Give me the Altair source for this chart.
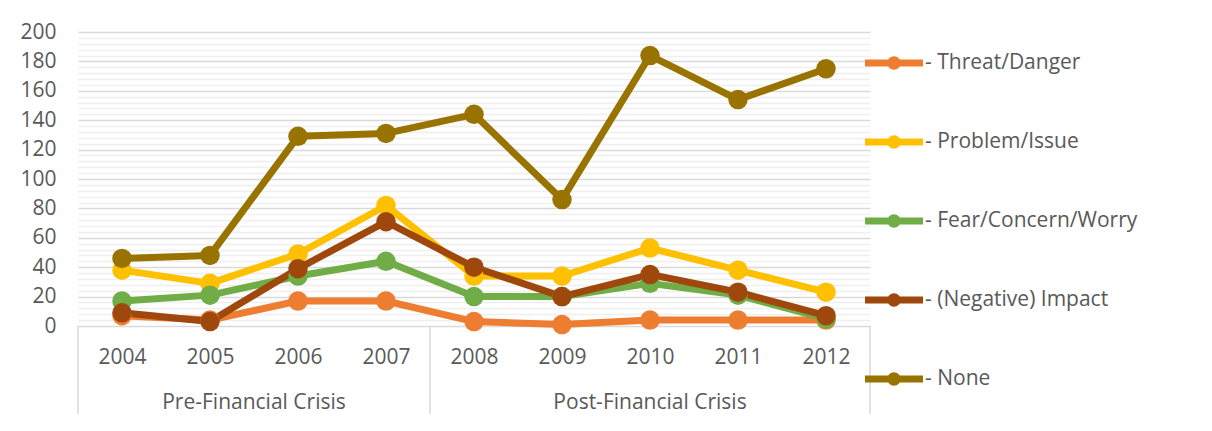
import altair as alt
import pandas as pd

years = ["2004", "2005", "2006", "2007", "2008", "2009", "2010", "2011", "2012"]
group_names = ["Pre-Financial Crisis", "Post-Financial Crisis"]
group_start = [0, 4]
group_end = [4, 9]
separators = [0, 4, 9]

series_names = ["- Threat/Danger", "- Problem/Issue", "- Fear/Concern/Worry",
                "- (Negative) Impact", "- None"]
threat = [7, 4, 17, 17, 3, 1, 4, 4, 4]
problem = [38, 29, 49, 82, 34, 34, 53, 38, 23]
fear = [17, 21, 34, 44, 20, 20, 29, 21, 5]
impact = [9, 3, 39, 71, 40, 20, 35, 23, 7]
none_ = [46, 48, 129, 131, 144, 86, 184, 154, 175]
colors = ["#ED7D31", "#FFC000", "#70AD47", "#9E480E", "#997300"]

values = [threat, problem, fear, impact, none_]
rows = []
for si, (name, vals) in enumerate(zip(series_names, values)):
    for yi, (yr, v) in enumerate(zip(years, vals)):
        rows.append({"series": name, "order": si, "year": yr, "yi": yi, "value": v})
df = pd.DataFrame(rows)

groups_df = pd.DataFrame({"name": group_names, "start": group_start, "end": group_end})
sep_df = pd.DataFrame({"pos": separators})

FONT = "Open Sans"
TXT = "#595959"
FS = 21

x_enc = alt.X("year:N",
              scale=alt.Scale(domain=years, paddingInner=0, paddingOuter=0),
              axis=alt.Axis(title=None, labelFontSize=FS, labelColor=TXT, labelFont=FONT,
                            ticks=False, tickSize=0, domain=False, grid=False, labelAngle=0,
                            labelBaseline="middle", labelPadding=31))
y_enc = alt.Y("value:Q",
              scale=alt.Scale(domain=[0, 200], nice=False),
              axis=alt.Axis(title=None, values=list(range(0, 201, 4)),
                            labelExpr="datum.value % 20 === 0 ? datum.label : ''",
                            labelFontSize=FS, labelColor=TXT, labelFont=FONT,
                            ticks=False, domain=False, labelPadding=22,
                            gridColor={"condition": {"test": "datum.value % 20 === 0",
                                                     "value": "#D9D9D9"},
                                       "value": "#EFEFEF"},
                            gridWidth=1.5))

color_scale = alt.Scale(domain=series_names, range=colors)
legend_path = ("M-1,-0.12L1,-0.12L1,0.12L-1,0.12Z "
               "M0.23,0A0.23,0.23,0,1,1,-0.23,0A0.23,0.23,0,1,1,0.23,0Z")


def make_legend():
    return alt.Legend(title=None, orient="none", legendX=787, legendY=2,
                      symbolType=legend_path, symbolSize=3364,
                      symbolStrokeWidth=0, symbolOpacity=1,
                      labelFontSize=FS, labelColor=TXT, labelFont=FONT,
                      labelOffset=2, rowPadding=40, padding=0, labelLimit=400)


points = alt.Chart(df).mark_point(filled=True, size=380, opacity=1).encode(
    x=x_enc, y=y_enc,
    color=alt.Color("series:N", scale=color_scale, sort=series_names, legend=make_legend()),
    order=alt.Order("order:Q"),
)

lines = alt.Chart(df).mark_line(strokeWidth=7, strokeJoin="round").encode(
    x=x_enc, y=y_enc,
    color=alt.Color("series:N", scale=color_scale, sort=series_names, legend=make_legend()),
    detail="order:N",
    order=alt.Order("yi:Q"),
)

pos_scale = alt.Scale(domain=[0, len(years)], nice=False, zero=False)

group_text = alt.Chart(groups_df).transform_calculate(
    mid="(datum.start + datum.end) / 2"
).mark_text(fontSize=FS, color=TXT, font=FONT, baseline="middle").encode(
    x=alt.X("mid:Q", scale=pos_scale, axis=None),
    y=alt.value(371),
    text="name:N",
)

sep_rules = alt.Chart(sep_df).mark_rule(color="#D9D9D9", strokeWidth=1.5).encode(
    x=alt.X("pos:Q", scale=pos_scale, axis=None),
    y=alt.value(294),
    y2=alt.value(386),
)

main = alt.layer(lines, points)
chart = alt.layer(main, sep_rules, group_text).resolve_scale(x="independent").properties(
    width=792, height=294,
    autosize=alt.AutoSizeParams(type="none"),
    padding={"left": 70, "top": 24, "right": 330, "bottom": 88},
    background="white",
).configure_view(stroke=None)

chart.save("out.html", embed_options={"renderer": "svg", "actions": False})
